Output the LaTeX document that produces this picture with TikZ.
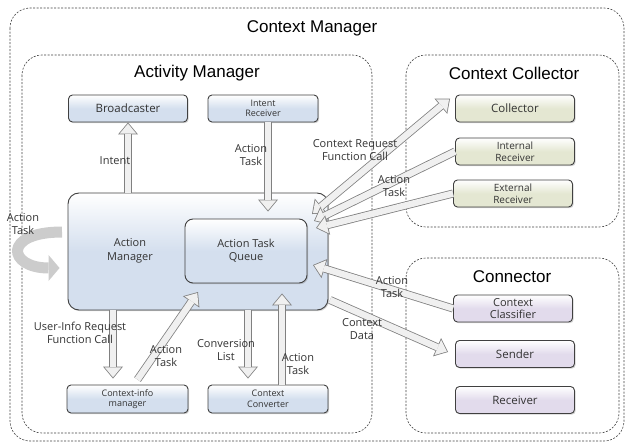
\documentclass[tikz,border=0pt]{standalone}
\usepackage{fontspec}
\setmainfont{Open Sans}
\newfontfamily\titlefont{Liberation Sans}
\usetikzlibrary{arrows.meta,shadows,positioning}
\definecolor{amblue}{RGB}{212,223,238}
\definecolor{ccgreen}{RGB}{228,231,210}
\definecolor{cnlilac}{RGB}{226,219,236}

\begin{document}
\begin{tikzpicture}[x=1pt,y=-1pt,
    grp/.style={draw=black!75, dash pattern=on 2pt off 1.5pt, rounded corners=20pt, line width=0.6pt},
    ttl/.style={font=\titlefont\fontsize{17}{19}\selectfont, text=black},
    box/.style={draw=black!75, line width=0.9pt, rounded corners=4pt, minimum width=119pt,
      minimum height=27pt, inner sep=1pt, align=center, text=black!80,
      font=\fontsize{11.5}{12}\selectfont,
      drop shadow={shadow xshift=1.2pt, shadow yshift=-1.2pt, opacity=.35}},
    small/.style={font=\fontsize{9}{10.5}\selectfont},
    mid/.style={font=\fontsize{10}{11.5}\selectfont},
    bluebox/.style={box, top color=white, bottom color=amblue, middle color=amblue},
    greenbox/.style={box, top color=white, bottom color=ccgreen, middle color=ccgreen},
    lilacbox/.style={box, top color=white, bottom color=cnlilac, middle color=cnlilac},
    arr/.style={draw=black!50, line width=8pt, -{Triangle[width=20pt,length=12pt,line width=0pt]},
      postaction={draw=black!6, line width=6.4pt,
        -{Triangle[width=16.6pt,length=9.95pt,line width=0pt]}, shorten >=1.25pt}},
    darr/.style={draw=black!50, line width=8pt,
      {Triangle[width=20pt,length=12pt,line width=0pt]}-{Triangle[width=20pt,length=12pt,line width=0pt]},
      postaction={draw=black!6, line width=6.4pt,
        {Triangle[width=16.6pt,length=9.95pt,line width=0pt]}-{Triangle[width=16.6pt,length=9.95pt,line width=0pt]},
        shorten >=1.25pt, shorten <=1.25pt}},
    lbl/.style={align=center, inner sep=0pt, text=black!80, font=\fontsize{11}{13.5}\selectfont}]

  \useasboundingbox (0,0) rectangle (630,447);

  % groups
  \draw[grp] (10,8) rectangle (624,441);
  \draw[grp] (22,55) rectangle (372,433);
  \draw[grp] (406,55) rectangle (619,227);
  \draw[grp] (406,258) rectangle (619,433);
  \node[ttl] (cmT) at (312,28) {Context Manager};
  \node[ttl] (amT) at (197,73) {Activity Manager};
  \node[ttl] (ccT) at (514,73) {Context Collector};
  \node[ttl] (cnT) at (512,277) {Connector};

  % activity manager
  \node[bluebox] (bc) at (128,108.5) {Broadcaster};
  \node[bluebox, small, minimum width=110pt] (ir) at (263,108.5) {Intent\\Receiver};
  \node[bluebox, minimum width=260pt, minimum height=117pt, rounded corners=11pt] (am) at (198,251.5) {};
  \node[lbl] (amlbl) at (130,251) {Action\\Manager};
  \node[bluebox, minimum width=122pt, minimum height=64pt, rounded corners=8pt,
    font=\fontsize{11}{13}\selectfont] (atq) at (246,251) {Action Task\\Queue};
  \node[bluebox, small, minimum width=121pt, minimum height=28pt] (cim) at (127.5,399) {Context-info\\manager};
  \node[bluebox, small, minimum width=120pt, minimum height=28pt] (cv) at (268,399) {Context\\Converter};

  % context collector
  \node[greenbox] (col) at (515,108.5) {Collector};
  \node[greenbox, mid] (inr) at (515,151.5) {Internal\\Receiver};
  \node[greenbox, mid] (exr) at (513,193.5) {External\\Receiver};

  % connector
  \node[lilacbox, font=\fontsize{11}{12.5}\selectfont] (cls) at (513,308.5) {Context\\Classifier};
  \node[lilacbox] (snd) at (515,354) {Sender};
  \node[lilacbox] (rcv) at (515,400) {Receiver};

  % free ends inside the manager box
  \coordinate (rq) at (312,214);
  \coordinate (inE) at (314,221);
  \coordinate (exE) at (316,228);
  \coordinate (clE) at (313,265);
  \coordinate (sdS) at (330,300);
  \coordinate (cmE) at (198,292);
  \coordinate (lp) at (62,232);

  % connectors
  \draw[arr] (am.north -| bc.south) -- (bc.south);
  \draw[arr] ([xshift=5pt]ir.south) -- ([xshift=5pt,yshift=7pt]ir.south |- atq.north);
  \draw[darr] (rq) -- ([xshift=-5pt,yshift=10pt]col.west);
  \draw[arr] (inr.west) -- (inE);
  \draw[arr] (exr.west) -- (exE);
  \draw[arr] (cls.west) -- (clE);
  \draw[arr] (sdS) -- ([xshift=-7pt,yshift=2pt]snd.west);
  \draw[arr] ([xshift=-14.5pt]cim.north |- am.south) -- ([xshift=-14.5pt,yshift=6pt]cim.north);
  \draw[arr] ([xshift=10pt,yshift=5pt]cim.north) -- (cmE);
  \draw[arr] ([xshift=-20pt]cv.north |- am.south) -- ([xshift=-20pt,yshift=6pt]cv.north);
  \draw[arr] ([xshift=14pt]cv.north) -- ([xshift=14pt,yshift=-10pt]cv.north |- atq.south);
  \draw[black!20, line width=11pt, -{Triangle[width=26pt,length=11pt,line width=0pt]}]
    (lp) .. controls (2,232) and (8,268) .. ([xshift=-8pt]am.west |- 0,268);

  % labels
  \node[lbl] (l1) at (115,161) {Intent};
  \node[lbl] (l2) at (251,155) {Action\\Task};
  \node[lbl] (l3) at (355,150) {Context Request\\Function Call};
  \node[lbl] (l4) at (394,186) {Action\\Task};
  \node[lbl] (l5) at (392,287) {Action\\Task};
  \node[lbl] (l6) at (362,329) {Context\\Data};
  \node[lbl] (l7) at (80,333) {User-Info Request\\Function Call};
  \node[lbl] (l8) at (166,356) {Action\\Task};
  \node[lbl] (l9) at (226,350) {Conversion\\List};
  \node[lbl] (l10) at (298,364) {Action\\Task};
  \node[lbl] (l11) at (23,224) {Action\\Task};
\end{tikzpicture}
\end{document}
